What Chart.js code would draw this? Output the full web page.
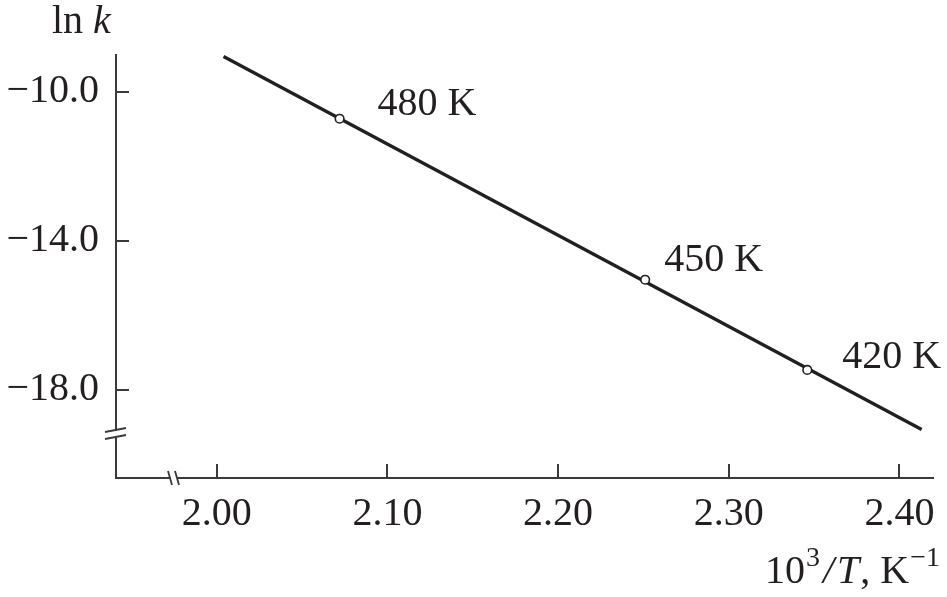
<!DOCTYPE html>
<html><head><meta charset="utf-8">
<script src="https://cdn.jsdelivr.net/npm/chart.js@4.4.1/dist/chart.umd.min.js"></script>
<style>html,body{margin:0;padding:0;background:#fff;overflow:hidden}canvas{display:block}</style>
</head><body>
<canvas id="c" width="947" height="597"></canvas>
<script>
// ---- data ----
const inverseT = [2.072, 2.251, 2.346];          // 10^3/T, K^-1
const lnK = [-10.73, -15.05, -17.47];            // ln k
const tempLabels = ['480 K', '450 K', '420 K'];
const fitLineX = [2.004, 2.413];
const fitLineY = [-9.06, -19.07];
const xTicks = [2.00, 2.10, 2.20, 2.30, 2.40];
const yTicks = [-10, -14, -18];
const xRange = [1.941, 2.420];
const yRange = [-20.37, -9.02];

const INK = '#231f20';
const AXIS = '#3a3a3a';
const FONT = "'Liberation Serif', 'Times New Roman', serif";

const labelOffsets = [[38, -4], [19, -9], [35, -2]];

const overlay = {
  id: 'overlay',
  afterDraw(chart) {
    const ctx = chart.ctx, xs = chart.scales.x, ys = chart.scales.y, a = chart.chartArea;
    ctx.save();
    // inward ticks
    ctx.strokeStyle = AXIS; ctx.lineWidth = 2;
    xTicks.forEach(v => {
      const x = Math.round(xs.getPixelForValue(v));
      ctx.beginPath(); ctx.moveTo(x, a.bottom); ctx.lineTo(x, a.bottom - 14); ctx.stroke();
    });
    yTicks.forEach(v => {
      const y = Math.round(ys.getPixelForValue(v));
      ctx.beginPath(); ctx.moveTo(a.left, y); ctx.lineTo(a.left + 13, y); ctx.stroke();
    });
    // axis breaks
    const bx = a.left + 58, by = a.bottom - 44;
    ctx.fillStyle = '#fff';
    ctx.fillRect(a.left - 3, by - 3, 6, 6);
    ctx.fillRect(bx - 3, a.bottom - 3, 6, 6);
    ctx.strokeStyle = AXIS; ctx.lineWidth = 1.8;
    ctx.beginPath();
    ctx.moveTo(a.left - 11, by - 2); ctx.lineTo(a.left + 10, by - 6);
    ctx.moveTo(a.left - 11, by + 5); ctx.lineTo(a.left + 10, by + 1);
    ctx.moveTo(bx - 6, a.bottom - 7); ctx.lineTo(bx - 2, a.bottom + 7);
    ctx.moveTo(bx + 1, a.bottom - 7); ctx.lineTo(bx + 5, a.bottom + 7);
    ctx.stroke();
    // point labels
    ctx.fillStyle = INK;
    ctx.font = '40px ' + FONT;
    ctx.textBaseline = 'alphabetic'; ctx.textAlign = 'left';
    tempLabels.forEach((t, i) => {
      const px = xs.getPixelForValue(inverseT[i]), py = ys.getPixelForValue(lnK[i]);
      ctx.fillText(t, px + labelOffsets[i][0], py + labelOffsets[i][1]);
    });
    // y title: ln k
    let x = 52; const yb = 33;
    ctx.font = '40px ' + FONT;
    ctx.fillText('ln ', x, yb); x += ctx.measureText('ln ').width;
    ctx.font = 'italic 40px ' + FONT;
    ctx.fillText('k', x, yb);
    // x title: 10^3/T, K^-1
    x = 765; const xb = 583;
    const seg = (txt, font, dy, gap) => { ctx.font = font; ctx.fillText(txt, x, xb + dy); x += ctx.measureText(txt).width + (gap || 0); };
    seg('10', '40px ' + FONT, 0, 1);
    seg('3', '28px ' + FONT, -17, 3);
    seg('/', 'italic 40px ' + FONT, 0, 3);
    seg('T', 'italic 40px ' + FONT, 0, 1);
    seg(', K', '40px ' + FONT, 0, 1);
    seg('\u22121', '28px ' + FONT, -17, 0);
    ctx.restore();
  }
};

function build() {
  new Chart(document.getElementById('c'), {
    type: 'scatter',
    data: {
      datasets: [
        {
          type: 'scatter',
          data: inverseT.map((v, i) => ({x: v, y: lnK[i]})),
          pointRadius: 4.3, pointHoverRadius: 4.3,
          pointBackgroundColor: '#fff', pointBorderColor: INK, pointBorderWidth: 1.6,
          order: 0
        },
        {
          type: 'line',
          data: fitLineX.map((v, i) => ({x: v, y: fitLineY[i]})),
          borderColor: INK, borderWidth: 3.3, pointRadius: 0, fill: false, tension: 0,
          order: 1
        }
      ]
    },
    options: {
      responsive: false, animation: false, devicePixelRatio: 1,
      clip: false,
      layout: {padding: {left: 0, top: 55, right: 13, bottom: 0}},
      plugins: {legend: {display: false}, tooltip: {enabled: false}},
      scales: {
        x: {
          type: 'linear', min: xRange[0], max: xRange[1],
          afterBuildTicks: s => { s.ticks = xTicks.map(v => ({value: v})); },
          afterFit: s => { s.height = 119; },
          grid: {display: true, drawOnChartArea: false, drawTicks: false},
          border: {display: true, color: AXIS, width: 2},
          ticks: {
            color: INK, font: {family: FONT, size: 40}, padding: 12, maxRotation: 0,
            callback: v => Number(v).toFixed(2)
          }
        },
        y: {
          type: 'linear', min: yRange[0], max: yRange[1],
          afterBuildTicks: s => { s.ticks = yTicks.map(v => ({value: v})); },
          afterFit: s => { s.width = 116; },
          grid: {display: true, drawOnChartArea: false, drawTicks: false},
          border: {display: true, color: AXIS, width: 2},
          ticks: {
            color: INK, font: {family: FONT, size: 40}, padding: 17,
            callback: v => (v < 0 ? '\u2212' : '') + Math.abs(v).toFixed(1)
          }
        }
      }
    },
    plugins: [overlay]
  });
}
if (document.fonts && document.fonts.load) {
  Promise.all([
    document.fonts.load("40px 'Liberation Serif'"),
    document.fonts.load("italic 40px 'Liberation Serif'")
  ]).then(build, build);
} else build();
</script>
</body></html>
